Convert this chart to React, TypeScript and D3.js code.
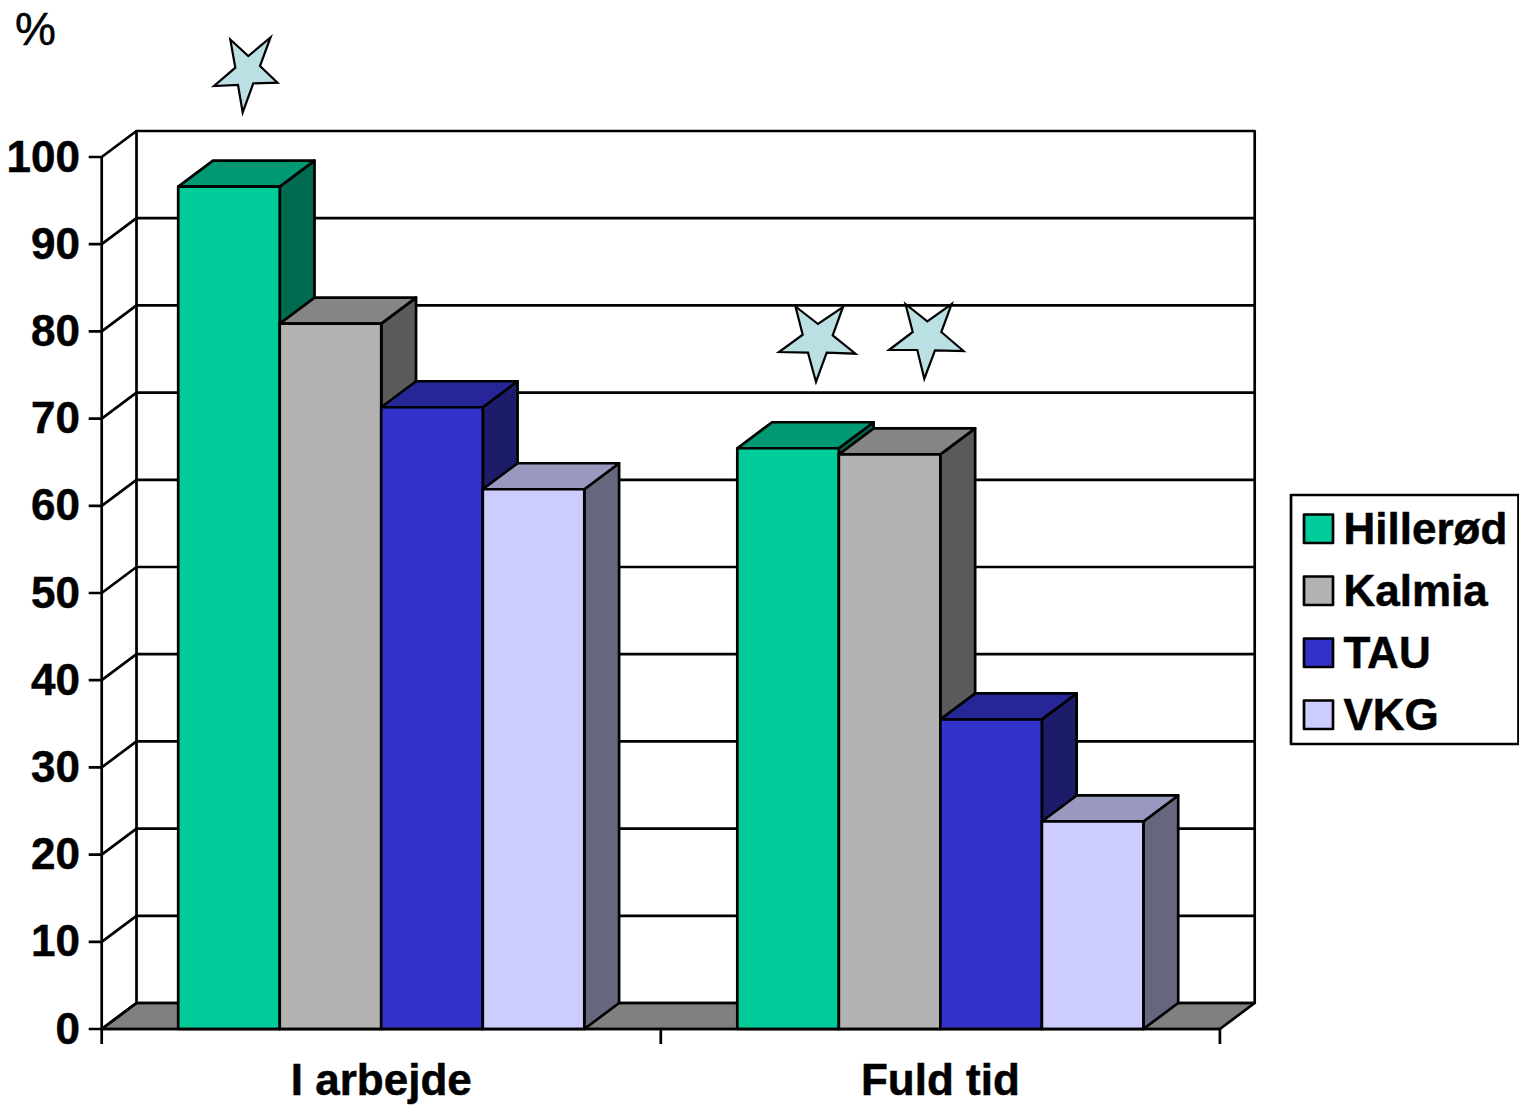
import React from "react";
import * as d3 from "d3";

const categories = ["I arbejde", "Fuld tid"];
const seriesNames = ["Hillerød", "Kalmia", "TAU", "VKG"];
const hillerod = [96.6, 66.6];
const kalmia = [80.9, 65.9];
const tau = [71.3, 35.5];
const vkg = [61.9, 23.8];
const seriesValues = [hillerod, kalmia, tau, vkg];
const yTicks = d3.range(0, 101, 10);

const frontColors = ["#00CC99", "#B2B2B2", "#3333CC", "#CCCCFF"];
const topColors = ["#009973", "#858585", "#262699", "#9999BF"];
const sideColors = ["#006B50", "#5A5A5A", "#1C1C6B", "#66667F"];

// Outline of the three significance stars, alternating outer and inner vertices.
const starOutlines: [number, number][][] = [
  [[230.3, 39.5], [248.3, 56], [270.5, 37.5], [260, 66], [277.5, 82.7], [253.3, 83.3], [242.7, 112.5], [238, 85], [214, 86], [235.3, 67.7]],
  [[795.5, 306.5], [818, 324], [843, 307], [832.7, 335.3], [855.5, 353.7], [826.7, 352.7], [816, 382], [808, 352.7], [779, 352], [802.7, 334.7]],
  [[905.5, 304], [927.3, 321.3], [951.7, 304], [941.3, 332], [963.5, 351], [935, 350.3], [924.3, 378.7], [917.3, 350], [889, 350], [912.7, 332]],
];

const depthX = 34.8;
const depthY = -26;
const stroke = 2.7;
const font = "'Liberation Sans', Arial, sans-serif";

const y = d3.scaleLinear().domain([0, 100]).range([1029, 157]);
const x = d3.scaleBand<string>().domain(categories).range([101.7, 1219.9]);
const inner = d3.scaleBand<string>().domain(seriesNames).range([76.5, 482.6]);
const poly = (pts: [number, number][]) => pts.map((p) => p.join(",")).join(" ");

export default function App() {
  const x0 = x.range()[0];
  const x1 = x.range()[1];
  const y0 = y(0);
  const y100 = y(100);
  const line = { stroke: "#000", strokeWidth: stroke, strokeLinejoin: "round" as const };
  const ticksX = [...categories.map((c) => x(c)!), x1];
  const heavy = { stroke: "#000", strokeWidth: 0.5 };

  return (
    <svg
      width={1519}
      height={1106}
      viewBox="0 0 1519 1106"
      style={{ position: "absolute", left: 0, top: 0, background: "#fff" }}
      fontFamily={font}
    >
      <text x={15} y={45} fontSize={46} {...heavy}>%</text>

      {/* Back wall, side wall and floor */}
      <polygon points={poly([[x0, y0], [x0 + depthX, y0 + depthY], [x1 + depthX, y0 + depthY], [x1, y0]])} fill="#808080" {...line} />
      <rect x={x0 + depthX} y={y100 + depthY} width={x1 - x0} height={y0 - y100} fill="none" {...line} />
      <line x1={x0} y1={y0} x2={x0} y2={y100} {...line} />

      {yTicks.map((t) => (
        <g key={t}>
          {t > 0 && t < 100 && (
            <line x1={x0 + depthX} x2={x1 + depthX} y1={y(t) + depthY} y2={y(t) + depthY} {...line} />
          )}
          <polyline points={poly([[x0 + depthX, y(t) + depthY], [x0, y(t)], [x0 - 13, y(t)]])} fill="none" {...line} />
          <text x={80} y={y(t) + 14.5} textAnchor="end" fontSize={44} fontWeight={700} {...heavy}>{t}</text>
        </g>
      ))}

      {/* Bars are painted left to right so each one overlaps its neighbour's side */}
      {categories.map((c, ci) =>
        seriesNames.map((s, si) => {
          const left = x(c)! + inner(s)!;
          const right = left + inner.bandwidth();
          const top = y(seriesValues[si][ci]);
          return (
            <g key={c + s}>
              <polygon points={poly([[right, top], [right + depthX, top + depthY], [right + depthX, y0 + depthY], [right, y0]])} fill={sideColors[si]} {...line} />
              <polygon points={poly([[left, top], [left + depthX, top + depthY], [right + depthX, top + depthY], [right, top]])} fill={topColors[si]} {...line} />
              <rect x={left} y={top} width={right - left} height={y0 - top} fill={frontColors[si]} {...line} />
            </g>
          );
        })
      )}

      {/* Category axis */}
      <line x1={x0} x2={x1} y1={y0} y2={y0} {...line} />
      {ticksX.map((t) => (
        <line key={t} x1={t} x2={t} y1={y0} y2={y0 + 15} {...line} />
      ))}
      {categories.map((c) => (
        <text key={c} x={x(c)! + x.bandwidth() / 2} y={1095} textAnchor="middle" fontSize={44} fontWeight={700} {...heavy}>{c}</text>
      ))}

      {starOutlines.map((pts, i) => (
        <polygon key={i} points={poly(pts)} fill="#BBE0E3" stroke="#000" strokeWidth={2.2} strokeLinejoin="miter" />
      ))}

      {/* Legend */}
      <rect x={1291} y={495} width={227.5} height={249} fill="#fff" {...line} />
      {seriesNames.map((s, i) => (
        <g key={s}>
          <rect x={1304} y={514.5 + i * 62} width={29} height={28.5} fill={frontColors[i]} {...line} />
          <text x={1343.5} y={544 + i * 62} fontSize={44} fontWeight={700} {...heavy}>{s}</text>
        </g>
      ))}
    </svg>
  );
}
